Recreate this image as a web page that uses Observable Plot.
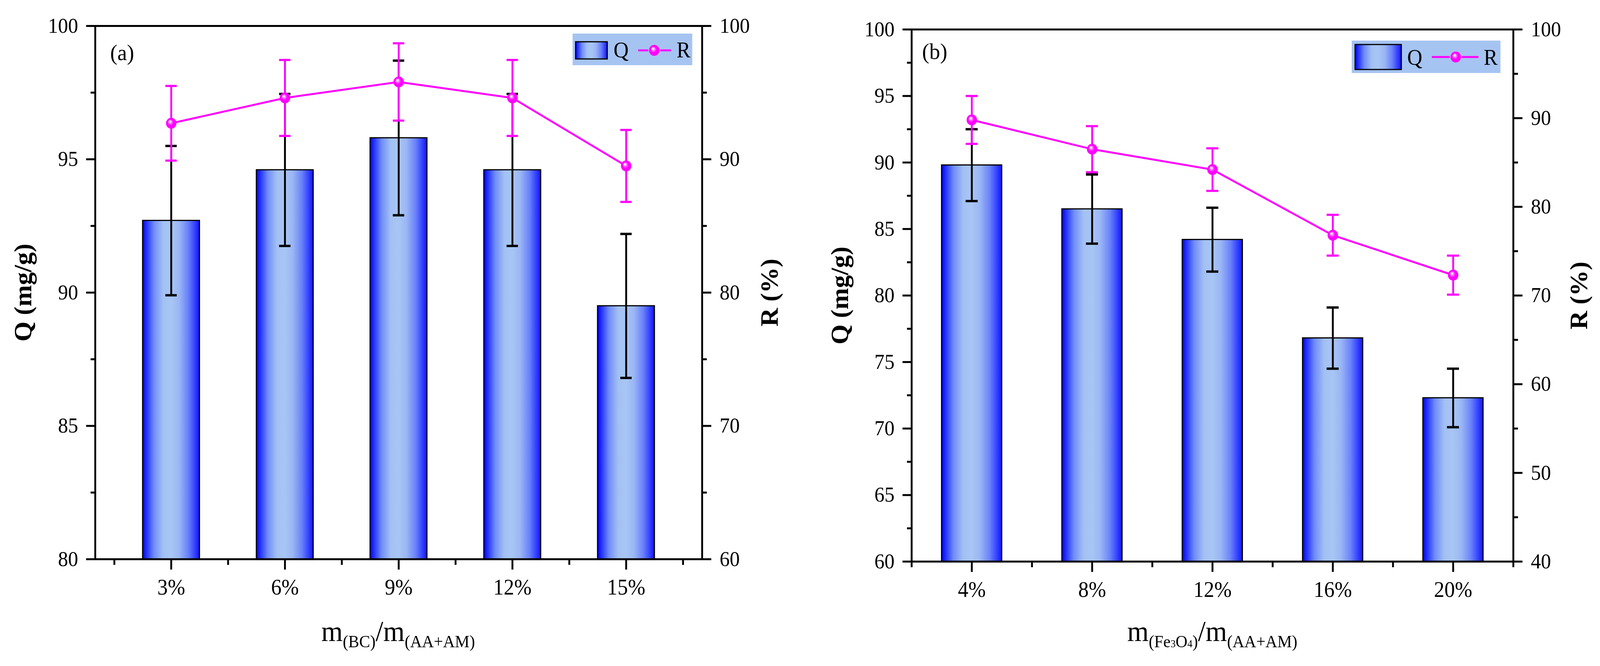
<!DOCTYPE html>
<html><head><meta charset="utf-8">
<script src="https://cdn.jsdelivr.net/npm/d3@7"></script>
<script src="https://cdn.jsdelivr.net/npm/@observablehq/plot@0.6"></script>
<style>
html,body{margin:0;padding:0;background:#fff;overflow:hidden;}
#root{position:absolute;left:0;top:0;width:4292px;height:1706px;overflow:hidden;transform-origin:0 0;font-family:"Liberation Serif","Times New Roman",serif;}
#root svg{position:absolute;top:0;}
</style></head><body><div id="root"></div>
<script>
// ---- data ----
const seriesNames = ["Q", "R"];
const catA = ["3%", "6%", "9%", "12%", "15%"];
const qA = [92.7, 94.6, 95.8, 94.6, 89.5];
const qErrA = [2.8, 2.85, 2.9, 2.85, 2.7];
const rA = [92.7, 94.6, 95.8, 94.6, 89.5];
const rErrA = [2.8, 2.85, 2.9, 2.85, 2.7];
const catB = ["4%", "8%", "12%", "16%", "20%"];
const qB = [89.8, 86.5, 84.2, 76.8, 72.3];
const qErrB = [2.7, 2.6, 2.4, 2.3, 2.2];
const rB = [89.8, 86.5, 84.2, 76.8, 72.3];
const rErrB = [2.7, 2.6, 2.4, 2.3, 2.2];
const qTicksA = [80, 85, 90, 95, 100];
const qMinorA = [82.5, 87.5, 92.5, 97.5];
const rTicksA = [60, 70, 80, 90, 100];
const rMinorA = [65, 75, 85, 95];
const qTicksB = [60, 65, 70, 75, 80, 85, 90, 95, 100];
const qMinorB = [62.5, 67.5, 72.5, 77.5, 82.5, 87.5, 92.5, 97.5];
const rTicksB = [40, 50, 60, 70, 80, 90, 100];
const rMinorB = [45, 55, 65, 75, 85, 95];

const root = document.getElementById("root");
const FONT = "Liberation Serif, Times New Roman, serif";
const PINK = "#ff00ff";

// fit the 4292x1706 drawing to whatever viewport the page gets
function fit() {
  const sx = window.innerWidth / 4292, sy = window.innerHeight / 1706;
  root.style.transform = `scale(${sx}, ${sy})`;
}
fit();
window.addEventListener("resize", fit);

// gradients
const defs = d3.select(root).append("svg").attr("width", 0).attr("height", 0).style("left", "0px").append("defs");
const bg = defs.append("linearGradient").attr("id", "barGrad").attr("x1", 0).attr("x2", 1).attr("y1", 0).attr("y2", 0);
[[0, "#0000ff"], [0.06, "#1e2cff"], [0.2, "#6f8cf8"], [0.36, "#a3c0f3"], [0.5, "#a8c6f4"], [0.64, "#9bb6f5"], [0.8, "#6a82fb"], [0.94, "#2a36ff"], [1, "#1010ff"]]
  .forEach(([o, c]) => bg.append("stop").attr("offset", o).attr("stop-color", c));
const dg = defs.append("radialGradient").attr("id", "dotGrad").attr("cx", "0.5").attr("cy", "0.5").attr("r", "0.5").attr("fx", "0.36").attr("fy", "0.32");
[[0, "#ffffff"], [0.12, "#ffe6ff"], [0.25, "#ff9cff"], [0.42, "#ff3cff"], [0.6, "#ff00ff"], [1, "#ff00ff"]]
  .forEach(([o, c]) => dg.append("stop").attr("offset", o).attr("stop-color", c));

const style = {background: "transparent", fontFamily: FONT, fontSize: "54px", color: "black", overflow: "visible", maxWidth: "none"};

function basePanel(p) {
  const rows = p.cats.map((c, i) => ({i, q: p.q[i], e: p.qErr[i]}));
  const minorX = d3.range(-0.5, p.cats.length, 1);
  const y0 = p.yDomain[0];
  return Plot.plot({
    width: 2146, height: 1706, ...p.margins,
    x: {type: "linear", domain: p.xDomain},
    y: {domain: p.yDomain},
    style,
    marks: [
      Plot.rect(rows, {x1: d => d.i - 0.25, x2: d => d.i + 0.25, y1: () => y0, y2: "q", fill: "url(#barGrad)", stroke: "black", strokeWidth: 3}),
      Plot.ruleX(rows, {x: "i", y1: d => d.q - d.e, y2: d => d.q + d.e, stroke: "black", strokeWidth: 5}),
      Plot.ruleY(rows, {y: d => d.q + d.e, x1: d => d.i - 0.05, x2: d => d.i + 0.05, stroke: "black", strokeWidth: 6}),
      Plot.ruleY(rows, {y: d => d.q - d.e, x1: d => d.i - 0.05, x2: d => d.i + 0.05, stroke: "black", strokeWidth: 6}),
      Plot.frame({stroke: "black", strokeWidth: 5}),
      Plot.axisY({ticks: p.qTicks, tickSize: 24, tickPadding: 22, strokeWidth: 5, fontSize: 54, label: null, tickFormat: d => String(d)}),
      Plot.axisY({ticks: p.qMinor, tickSize: 12, strokeWidth: 5, label: null, tickFormat: () => ""}),
      Plot.axisX({ticks: rows.map(d => d.i), tickSize: 27, tickPadding: 24, strokeWidth: 5, fontSize: 56, label: null, tickFormat: i => p.cats[Math.round(i)]}),
      Plot.axisX({ticks: minorX, tickSize: 15, strokeWidth: 5, label: null, tickFormat: () => ""}),
      Plot.text([p.tag], {text: d => d, frameAnchor: "top-left", dx: p.tagDx, dy: p.tagDy, fontSize: 58, textAnchor: "start", lineAnchor: "top"}),
      Plot.text(["Q (mg/g)"], {text: d => d, frameAnchor: "left", rotate: -90, dx: p.qLabelDx, fontSize: 66, fontWeight: "bold", textAnchor: "middle", lineAnchor: "middle"})
    ]
  });
}

function overlayPanel(p) {
  const rows = p.r.map((v, i) => ({i, r: v, e: p.rErr[i]}));
  return Plot.plot({
    width: 2146, height: 1706, ...p.margins,
    x: {type: "linear", domain: p.xDomain, axis: null},
    y: {domain: p.yDomain},
    style,
    marks: [
      Plot.line(rows, {x: "i", y: "r", stroke: PINK, strokeWidth: 5}),
      Plot.ruleX(rows, {x: "i", y1: d => d.r - d.e, y2: d => d.r + d.e, stroke: PINK, strokeWidth: 5}),
      Plot.ruleY(rows, {y: d => d.r + d.e, x1: d => d.i - 0.05, x2: d => d.i + 0.05, stroke: PINK, strokeWidth: 5.5}),
      Plot.ruleY(rows, {y: d => d.r - d.e, x1: d => d.i - 0.05, x2: d => d.i + 0.05, stroke: PINK, strokeWidth: 5.5}),
      Plot.dot(rows, {x: "i", y: "r", r: 14, fill: "url(#dotGrad)", stroke: "none"}),
      Plot.axisY({anchor: "right", ticks: p.rTicks, tickSize: 24, tickPadding: 23, strokeWidth: 5, fontSize: 54, label: null, tickFormat: d => String(d)}),
      Plot.axisY({anchor: "right", ticks: p.rMinor, tickSize: 12, strokeWidth: 5, label: null, tickFormat: () => ""}),
      Plot.text(["R (%)"], {text: d => d, frameAnchor: "right", rotate: -90, dx: p.rLabelDx, fontSize: 66, fontWeight: "bold", textAnchor: "middle", lineAnchor: "middle"})
    ]
  });
}

function place(svg, left) { svg.style.left = left + "px"; svg.style.top = "0px"; root.appendChild(svg); }

const marginsA = {marginLeft: 255, marginRight: 263, marginTop: 66, marginBottom: 274};
const marginsB = {marginLeft: 299, marginRight: 233, marginTop: 75, marginBottom: 268};
const xDomA = [-0.668, 4.668];
const xDomB = [-0.5, 4.5];

place(basePanel({cats: catA, q: qA, qErr: qErrA, yDomain: [80, 100], qTicks: qTicksA, qMinor: qMinorA, xDomain: xDomA, margins: marginsA, tag: "(a)", tagDx: 40, tagDy: 46, qLabelDx: -193}), 0);
place(overlayPanel({r: rA, rErr: rErrA, yDomain: [60, 100], rTicks: rTicksA, rMinor: rMinorA, xDomain: xDomA, margins: marginsA, rLabelDx: 182}), 0);
place(basePanel({cats: catB, q: qB, qErr: qErrB, yDomain: [60, 100], qTicks: qTicksB, qMinor: qMinorB, xDomain: xDomB, margins: marginsB, tag: "(b)", tagDx: 28, tagDy: 34, qLabelDx: -192}), 2146);
place(overlayPanel({r: rB, rErr: rErrB, yDomain: [40, 100], rTicks: rTicksB, rMinor: rMinorB, xDomain: xDomB, margins: marginsB, rLabelDx: 177}), 2146);

// ---- titles and legends (added around the plots) ----
const ov = d3.select(root).append("svg").attr("width", 4292).attr("height", 1706).style("left", "0px").style("pointer-events", "none")
  .attr("font-family", FONT).attr("fill", "black");

function xTitle(cx, parts) {
  const t = ov.append("text").attr("x", cx).attr("y", 1642).attr("text-anchor", "middle").attr("font-size", 74);
  parts.forEach(([s, size, dy]) => t.append("tspan").attr("font-size", size).attr("dy", dy).text(s));
}
xTitle(1068, [["m", 74, 0], ["(BC)", 44, 16], ["/m", 74, -16], ["(AA+AM)", 44, 16]]);
xTitle(3252, [["m", 74, 0], ["(Fe", 44, 16], ["3", 27, 0], ["O", 44, 0], ["4", 27, 0], [")", 44, 0], ["/m", 74, -16], ["(AA+AM)", 44, 16]]);

function legend(L) {
  const g = ov.append("g").attr("transform", `translate(${L.x},${L.y})`);
  g.append("rect").attr("width", L.w).attr("height", L.h).attr("fill", "#a6c4f2");
  g.append("rect").attr("x", L.sx).attr("y", L.sy).attr("width", L.sw).attr("height", L.sh).attr("fill", "url(#barGrad)").attr("stroke", "black").attr("stroke-width", 3);
  g.append("text").attr("x", L.qx).attr("y", L.base).attr("font-size", 56).text(seriesNames[0]);
  g.append("line").attr("x1", L.l1).attr("x2", L.mx - 16).attr("y1", L.ly).attr("y2", L.ly).attr("stroke", PINK).attr("stroke-width", 5);
  g.append("line").attr("x1", L.mx + 16).attr("x2", L.l2).attr("y1", L.ly).attr("y2", L.ly).attr("stroke", PINK).attr("stroke-width", 5);
  g.append("circle").attr("cx", L.mx).attr("cy", L.ly).attr("r", 14).attr("fill", "url(#dotGrad)");
  g.append("text").attr("x", L.rx).attr("y", L.base).attr("font-size", 56).text(seriesNames[1]);
}
legend({x: 1536, y: 86, w: 321, h: 81, sx: 8, sy: 21, sw: 85, sh: 44, qx: 110, base: 61, l1: 176, l2: 264, ly: 43, mx: 219, rx: 279});
legend({x: 3626, y: 104, w: 399, h: 83, sx: 9, sy: 10, sw: 124, sh: 64, qx: 149, base: 62, l1: 215, l2: 340, ly: 42, mx: 279, rx: 354});
</script></body></html>
